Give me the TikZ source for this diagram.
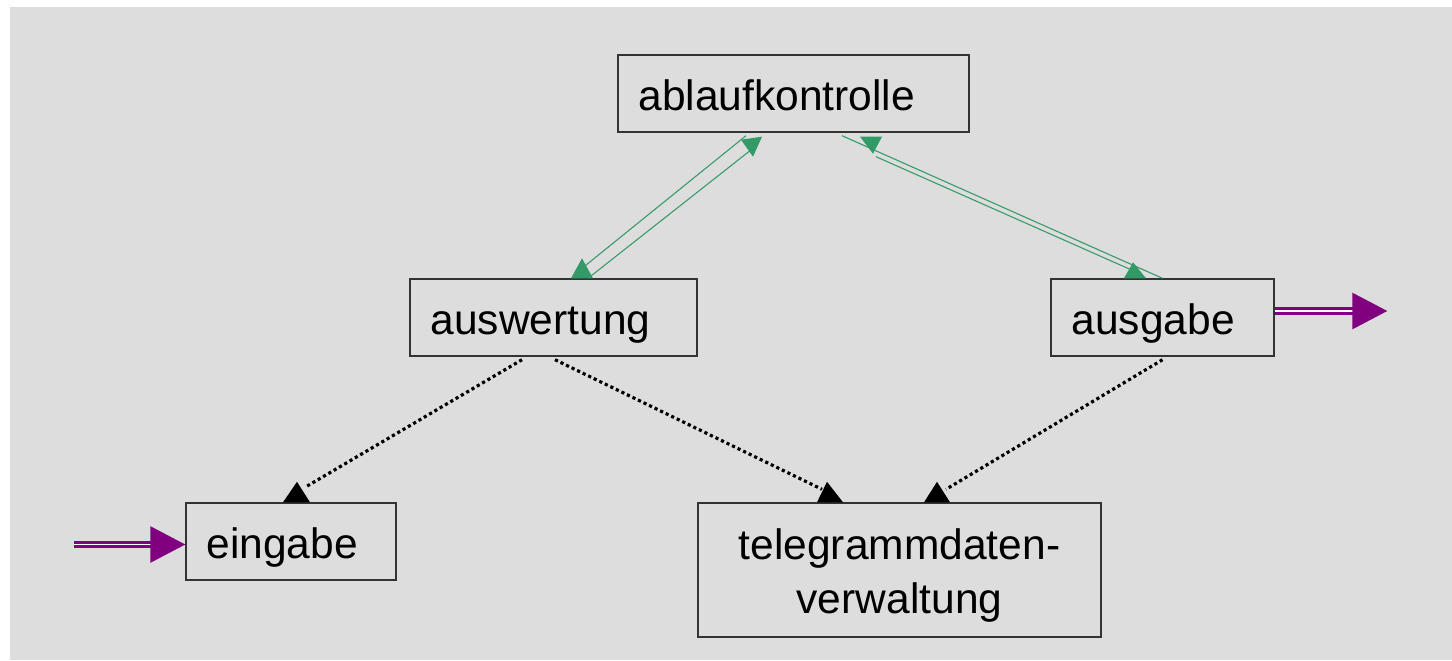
\documentclass[tikz,border=0pt]{standalone}
\usepackage{fontspec}
\setmainfont{Liberation Sans}
\usetikzlibrary{arrows.meta}

\definecolor{bggray}{HTML}{DDDDDD}
\definecolor{flowgreen}{HTML}{339966}
\definecolor{iopurple}{HTML}{800080}

\begin{document}
\begin{tikzpicture}[
  box/.style={draw=black!80, line width=0.4pt, inner xsep=0.205cm, inner ysep=0pt,
    minimum height=0.77cm, text height=0.42cm, text depth=0.09cm, align=left,
    font=\fontsize{12.1}{15.4}\selectfont},
  ctrl/.style={flowgreen, line width=0.3pt},
  call/.style={line width=0.9pt, dash pattern=on 0.9pt off 0.85pt},
  io/.style={iopurple, line width=0.8pt, double=white, double distance=0.55pt,
    -{Triangle[length=0.35cm,width=0.36cm]}}
]

% Background
\useasboundingbox (0,0) rectangle (14.52,6.6);
\fill[bggray] (0.10,0) rectangle (14.52,6.53);

% Modules
\node[box, text width=3.10cm] (abl) at (7.935,5.665) {ablaufkontrolle};
\node[box, text width=2.46cm] (ausw) at (5.535,3.425) {auswertung};
\node[box, text width=1.82cm] (ausg) at (11.625,3.425) {ausgabe};
\node[box, text width=1.69cm] (ein) at (2.91,1.185) {eingabe};
\node[box, text width=3.62cm, align=center, minimum height=1.34cm, text depth=0.63cm]
  (tel) at (8.995,0.90) {telegrammdaten-\\verwaltung};

% Control flow
\draw[ctrl] ([xshift=-0.475cm,yshift=-0.03cm]abl.south) -- ([xshift=0.285cm,yshift=0.10cm]ausw.north);
\draw[ctrl] ([xshift=0.345cm]ausw.north) -- ([xshift=-0.435cm,yshift=-0.18cm]abl.south);
\draw[ctrl] ([xshift=0.485cm,yshift=-0.03cm]abl.south) -- (ausg.north);
\draw[ctrl] ([xshift=0.825cm,yshift=-0.24cm]abl.south) -- ([xshift=-0.325cm,yshift=0.09cm]ausg.north);

\fill[flowgreen] ([xshift=-0.525cm,yshift=-0.07cm]abl.south) -- ++(0.21,0.03) -- ++(-0.09,-0.20) -- cycle;
\fill[flowgreen] ([xshift=0.175cm]ausw.north) -- ++(0.11,0.20) -- ++(0.11,-0.20) -- cycle;
\fill[flowgreen] ([xshift=0.665cm,yshift=-0.04cm]abl.south) -- ++(0.22,0) -- ++(-0.09,-0.17) -- cycle;
\fill[flowgreen] ([xshift=-0.385cm]ausg.north) -- ++(0.09,0.16) -- ++(0.13,-0.16) -- cycle;

% Calls
\draw[call] ([xshift=-0.315cm,yshift=-0.03cm]ausw.south) -- ([xshift=0.14cm,yshift=0.15cm]ein.north);
\draw[call] ([xshift=0.015cm,yshift=-0.03cm]ausw.south) -- ([xshift=-0.775cm,yshift=0.13cm]tel.north);
\draw[call] ([yshift=-0.03cm]ausg.south) -- ([xshift=0.465cm,yshift=0.13cm]tel.north);

\fill ([xshift=-0.08cm]ein.north) -- ++(0.14,0.205) -- ++(0.13,-0.205) -- cycle;
\fill ([xshift=-0.825cm]tel.north) -- ++(0.10,0.205) -- ++(0.16,-0.205) -- cycle;
\fill ([xshift=0.245cm]tel.north) -- ++(0.13,0.205) -- ++(0.13,-0.205) -- cycle;

% Input / output
\coordinate (src) at (0.74,1.155);
\coordinate (snk) at (13.873,3.49);
\draw[io] (src) -- (src -| ein.west);
\draw[io] (snk -| ausg.east) -- (snk);

\end{tikzpicture}
\end{document}
